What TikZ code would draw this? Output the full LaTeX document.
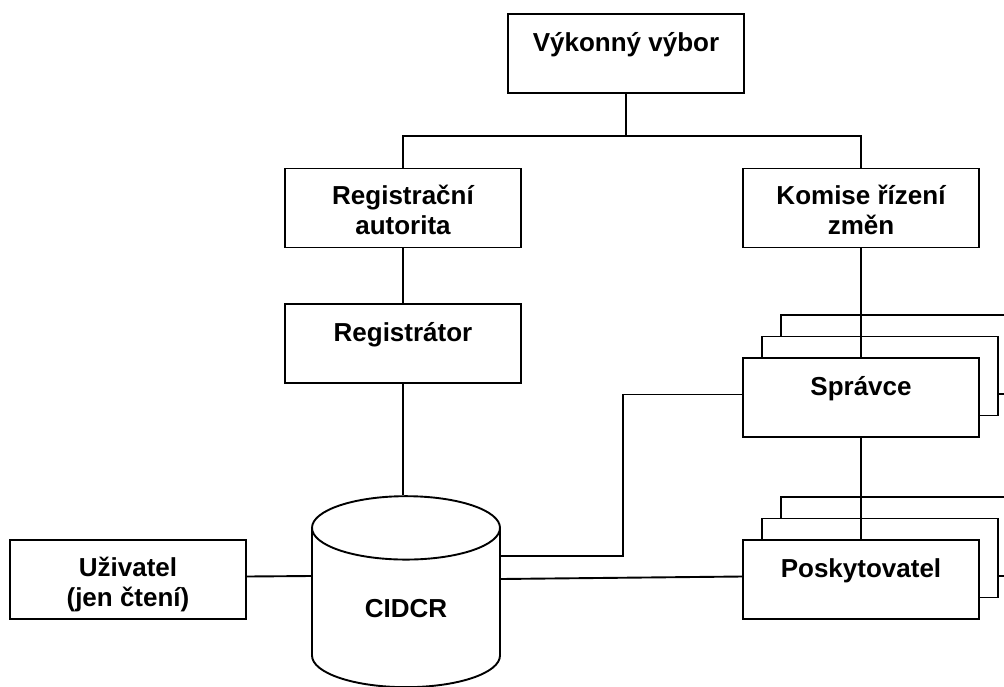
\documentclass[tikz,border=0pt]{standalone}
\usepackage{fontspec}
\setmainfont{Liberation Sans}
\usetikzlibrary{calc,positioning,shapes.geometric}
\pgfdeclarelayer{back}
\pgfsetlayers{back,main}

\begin{document}
\begin{tikzpicture}[x=1pt,y=-1pt,
    every node/.style={font=\fontsize{26}{30}\selectfont\bfseries},
    box/.style={draw,line width=1.9pt,rectangle,fill=white,minimum width=236pt,
      inner sep=0pt,text height=37pt,text depth=42pt},
    box2/.style={box,align=center,text height=66pt,text depth=13pt},
    wire/.style={line width=1.9pt}]

  \useasboundingbox (0,0) rectangle (1004,686);

  \node [box] at(626,53.5) (vybor) {Výkonný výbor};
  \node [box2] at(403,208) (reg_autorita) {Registrační\\autorita};
  \node [box2] at(861,208) (komise) {Komise řízení\\změn};
  \node [box] at(403,343.5) (registrator) {Registrátor};
  \node [box] at(861,397.5) (spravce) {Správce};
  \node [box] at(861,579.5) (poskytovatel) {Poskytovatel};
  \node [box2] at(128,579.5) (uzivatel) {Uživatel\\(jen čtení)};

  % copies behind the front boxes
  \begin{pgfonlayer}{back}
    \foreach \k in {2,1}{
      \node [box] at($(spravce)+(19*\k,-21.5*\k)$) (spravce_\k) {};
      \node [box] at($(poskytovatel)+(19*\k,-21.5*\k)$) (poskytovatel_\k) {};
    }
  \end{pgfonlayer}

  \node [draw,line width=1.9pt,cylinder,shape border rotate=90,aspect=0.77,
    minimum width=188pt,minimum height=191pt,inner sep=0pt,
    text height=23pt,text depth=4pt] at(406,608) (cidcr) {CIDCR};

  \coordinate (fork) at($(vybor.south)+(0,42)$);
  \draw [wire] (vybor.south) -- (fork);
  \draw [wire] (reg_autorita.north) |- (fork) -| (komise.north);
  \draw [wire] (reg_autorita.south) -- (registrator.north);
  \draw [wire] (registrator.south) -- (registrator.south |- cidcr.north);
  \draw [wire] (komise.south) -- (spravce.north);
  \draw [wire] (spravce.south) -- (poskytovatel.north);
  \draw [wire] ($(uzivatel.east)+(0,-3)$) -- ($(cidcr.west)+(0,-32)$);
  \draw [wire] ($(cidcr.east)+(0,-52)$) -- ++(122,0) |- ($(spravce.west)+(0,-3)$);
  \draw [wire] ($(cidcr.east)+(0,-29)$) -- ($(poskytovatel.west)+(0,-3)$);

\end{tikzpicture}
\end{document}
